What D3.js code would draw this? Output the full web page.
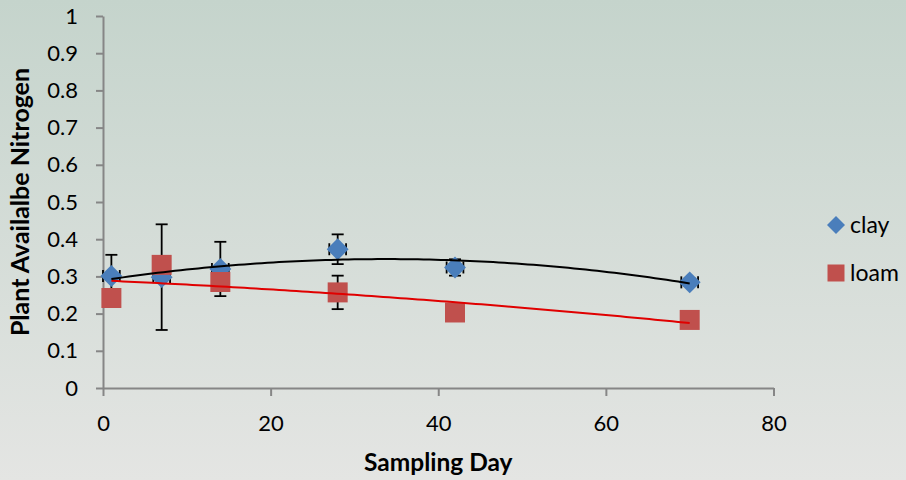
<!DOCTYPE html>
<html>
<head>
<meta charset="utf-8">
<script src="https://cdn.jsdelivr.net/npm/d3@7"></script>
<style>
  html, body { margin: 0; padding: 0; }
  svg { display: block; }
  text { font-family: Lato, "Open Sans", sans-serif; fill: #000; }
</style>
</head>
<body>
<svg id="chart" width="906" height="480"></svg>
<script>
// ---- data ----
const days = [1, 7, 14, 28, 42, 70];
const clay = [0.301, 0.298, 0.320, 0.373, 0.324, 0.284];
const clayErrY = [0.057, 0.142, 0.073, 0.040, 0.022, 0.010];
const clayErrX = [1, 1, 1, 1, 1, 1];
const loam = [0.242, 0.331, 0.285, 0.257, 0.203, 0.183];
const loamErrY = [0.020, 0.020, 0.020, 0.045, 0.020, 0.020];
const loamErrX = [1, 1, 1, 1, 1, 1];
const seriesNames = ["clay", "loam"];
const xTicks = [0, 20, 40, 60, 80];
const yTicks = [0, 0.1, 0.2, 0.3, 0.4, 0.5, 0.6, 0.7, 0.8, 0.9, 1];
const yTickLabels = ["0", "0.1", "0.2", "0.3", "0.4", "0.5", "0.6", "0.7", "0.8", "0.9", "1"];
const xTitle = "Sampling Day";
const yTitle = "Plant Availalbe Nitrogen";

// ---- helpers ----
function polyfit2(xs, ys) {
  // least squares quadratic y = a + b x + c x^2
  let S = [0, 0, 0, 0, 0], T = [0, 0, 0];
  xs.forEach((x, i) => {
    for (let k = 0; k < 5; k++) S[k] += Math.pow(x, k);
    for (let k = 0; k < 3; k++) T[k] += ys[i] * Math.pow(x, k);
  });
  const M = [[S[0], S[1], S[2], T[0]], [S[1], S[2], S[3], T[1]], [S[2], S[3], S[4], T[2]]];
  for (let i = 0; i < 3; i++) {
    for (let j = i + 1; j < 3; j++) {
      const f = M[j][i] / M[i][i];
      for (let k = i; k < 4; k++) M[j][k] -= f * M[i][k];
    }
  }
  const r = [0, 0, 0];
  for (let i = 2; i >= 0; i--) {
    let s = M[i][3];
    for (let k = i + 1; k < 3; k++) s -= M[i][k] * r[k];
    r[i] = s / M[i][i];
  }
  return x => r[0] + r[1] * x + r[2] * x * x;
}

// ---- setup ----
const W = 906, H = 480;
const svg = d3.select("#chart");
const defs = svg.append("defs");
const grad = defs.append("linearGradient").attr("id", "bg")
  .attr("x1", 0).attr("y1", 0).attr("x2", 0).attr("y2", 1);
grad.append("stop").attr("offset", "0%").attr("stop-color", "#c5d4cc");
grad.append("stop").attr("offset", "100%").attr("stop-color", "#e4e5e3");
svg.append("rect").attr("width", W).attr("height", H).attr("fill", "url(#bg)");

const x = d3.scaleLinear().domain([0, 80]).range([103, 773.5]);
const y = d3.scaleLinear().domain([0, 1]).range([388, 16]);

const axisColor = "#868686";

// y axis
const gy = svg.append("g").attr("transform", `translate(${x(0)},0)`)
  .call(d3.axisLeft(y).tickValues(yTicks).tickSize(7).tickPadding(18)
    .tickFormat((d, i) => yTickLabels[i]).tickSizeOuter(0));
gy.select(".domain").attr("stroke", axisColor).attr("stroke-width", 2);
gy.selectAll(".tick line").attr("stroke", axisColor).attr("stroke-width", 2);
gy.selectAll(".tick text").attr("font-size", 22).attr("font-family", "Lato").attr("fill", "#000");

// x axis
const gx = svg.append("g").attr("transform", `translate(0,${y(0)})`)
  .call(d3.axisBottom(x).tickValues(xTicks).tickSize(8).tickPadding(19)
    .tickFormat(d3.format("d")).tickSizeOuter(0));
gx.select(".domain").attr("stroke", axisColor).attr("stroke-width", 2);
gx.selectAll(".tick line").attr("stroke", axisColor).attr("stroke-width", 2);
gx.selectAll(".tick text").attr("font-size", 22).attr("font-family", "Lato").attr("fill", "#000");

// titles
svg.append("text").attr("x", x(40)).attr("y", 471)
  .attr("text-anchor", "middle").attr("font-size", 24.5).attr("font-weight", "bold")
  .text(xTitle);
svg.append("text")
  .attr("transform", `translate(29,${(y(0) + y(1)) / 2}) rotate(-90)`)
  .attr("text-anchor", "middle").attr("font-size", 25).attr("font-weight", "bold")
  .text(yTitle);

// ---- error bars ----
const clayPts = days.map((d, i) => ({ x: d, y: clay[i], ex: clayErrX[i], ey: clayErrY[i] }));
const loamPts = days.map((d, i) => ({ x: d, y: loam[i], ex: loamErrX[i], ey: loamErrY[i] }));
const cap = 6;
function drawErr(pts) {
  const g = svg.append("g").attr("stroke", "#000").attr("stroke-width", 1.8).attr("fill", "none");
  pts.forEach(p => {
    const cx = x(p.x), cy = y(p.y);
    const yt = y(p.y + p.ey), yb = y(p.y - p.ey);
    const xl = x(p.x - p.ex), xr = x(p.x + p.ex);
    g.append("line").attr("x1", cx).attr("x2", cx).attr("y1", yt).attr("y2", yb);
    g.append("line").attr("x1", cx - cap).attr("x2", cx + cap).attr("y1", yt).attr("y2", yt);
    g.append("line").attr("x1", cx - cap).attr("x2", cx + cap).attr("y1", yb).attr("y2", yb);
    g.append("line").attr("x1", xl).attr("x2", xr).attr("y1", cy).attr("y2", cy);
    g.append("line").attr("x1", xl).attr("x2", xl).attr("y1", cy - cap).attr("y2", cy + cap);
    g.append("line").attr("x1", xr).attr("x2", xr).attr("y1", cy - cap).attr("y2", cy + cap);
  });
}
drawErr(clayPts);
drawErr(loamPts);

// ---- markers ----
const blue = "#4a7ebb", red = "#c0504d";
const diamond = d3.symbol().type(d3.symbolSquare).size(240);
const square = d3.symbol().type(d3.symbolSquare).size(400);
svg.append("g").selectAll("path").data(clayPts).join("path")
  .attr("d", diamond)
  .attr("transform", p => `translate(${x(p.x)},${y(p.y)}) rotate(45)`)
  .attr("fill", blue);
svg.append("g").selectAll("path").data(loamPts).join("path")
  .attr("d", square)
  .attr("transform", p => `translate(${x(p.x)},${y(p.y)})`)
  .attr("fill", red);

// ---- polynomial trendlines (order 2) ----
const fc = polyfit2(days, clay);
const fl = polyfit2(days, loam);
const xs = d3.range(0, 101).map(i => d3.min(days) + (d3.max(days) - d3.min(days)) * i / 100);
const line = d3.line().x(d => x(d[0])).y(d => y(d[1]));
svg.append("path").attr("d", line(xs.map(v => [v, fl(v)])))
  .attr("fill", "none").attr("stroke", "#e00000").attr("stroke-width", 2);
svg.append("path").attr("d", line(xs.map(v => [v, fc(v)])))
  .attr("fill", "none").attr("stroke", "#000").attr("stroke-width", 2);

// ---- legend ----
const lg = svg.append("g");
const legendY = [225, 273];
lg.append("path").attr("d", d3.symbol().type(d3.symbolSquare).size(162))
  .attr("transform", `translate(836,${legendY[0]}) rotate(45)`).attr("fill", blue);
lg.append("path").attr("d", d3.symbol().type(d3.symbolSquare).size(289))
  .attr("transform", `translate(836,${legendY[1]})`).attr("fill", red);
seriesNames.forEach((n, i) => {
  lg.append("text").attr("x", 850).attr("y", legendY[i]).attr("dy", "0.35em")
    .attr("font-size", 23).text(n);
});
</script>
</body>
</html>
